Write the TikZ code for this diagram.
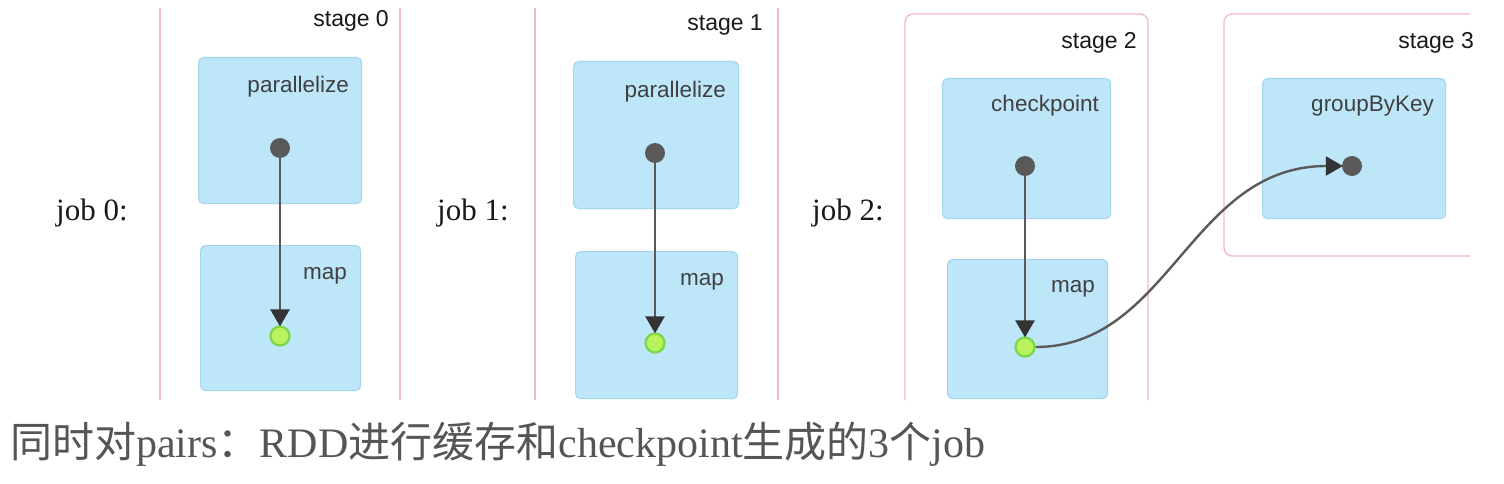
\documentclass[tikz,border=0pt]{standalone}
\usepackage{fontspec}
\setmainfont{Liberation Serif}
\setsansfont{Liberation Sans}
\newfontfamily\cjk{Noto Sans CJK SC}
\usetikzlibrary{arrows.meta}
\definecolor{boxfill}{HTML}{BDE6F9}
\definecolor{boxline}{HTML}{A3D6EF}
\definecolor{pinkline}{HTML}{F2B9C6}
\definecolor{dotdark}{HTML}{595959}
\definecolor{dotgreen}{HTML}{B8F25C}
\definecolor{dotgreenline}{HTML}{7CD64A}
\definecolor{edgecol}{HTML}{5A5A5A}
\definecolor{captioncol}{HTML}{555555}
\tikzset{
  bbox/.style={draw=boxline, fill=boxfill, line width=1.2pt, rounded corners=5pt, anchor=north west, inner sep=0pt},
  oplabel/.style={font=\sffamily\fontsize{22.5}{24}\selectfont, text=black!75, anchor=east, inner sep=0pt},
  stagelabel/.style={font=\sffamily\fontsize{23}{25}\selectfont, text=black!90, anchor=east, inner sep=0pt},
  joblabel/.style={font=\fontsize{31}{33}\selectfont, text=black!90, anchor=west, inner sep=0pt},
  darkdot/.style={circle, fill=dotdark, minimum size=20pt, inner sep=0pt},
  greendot/.style={circle, fill=dotgreen, draw=dotgreenline, line width=2.2pt, minimum size=19pt, inner sep=0pt},
  pinkrule/.style={draw=pinkline, line width=1.3pt},
  flow/.style={draw=edgecol, line width=2.4pt, -{Triangle[length=17pt,width=19pt,color=black!80]}, shorten >=-1pt},
}
\begin{document}
\begin{tikzpicture}[x=1pt,y=-1pt]
\useasboundingbox[fill=white] (0,0) rectangle (1504,484);
% stage separators
\draw[pinkrule] (160,8) -- (160,400);
\draw[pinkrule] (400,8) -- (400,400);
\draw[pinkrule] (535,8) -- (535,400);
\draw[pinkrule] (778,8) -- (778,400);
\draw[pinkrule, rounded corners=8pt] (905,400) -- (905,14) -- (1148,14) -- (1148,400);
\begin{scope}
\clip (1200,0) rectangle (1470,400);
\draw[pinkrule, rounded corners=8pt] (1224,14) rectangle (1500,256);
\end{scope}
% stage labels
\node[stagelabel] (s0) at (389,21) {stage 0};
\node[stagelabel] (s1) at (763,25) {stage 1};
\node[stagelabel] (s2) at (1137,43) {stage 2};
\node[stagelabel] (s3) at (1474,43) {stage 3};
% job labels
\node[joblabel] (j0) at (56,213) {job 0:};
\node[joblabel] (j1) at (437,213) {job 1:};
\node[joblabel] (j2) at (812,213) {job 2:};
% job 0
\node[bbox, minimum width=163pt, minimum height=146pt] (p0) at (198,57) {};
\node[bbox, minimum width=160pt, minimum height=145pt] (m0) at (200,245) {};
\node[oplabel] at (349,87) {parallelize};
\node[oplabel] at (347,276) {map};
\node[darkdot] (d0) at (280,148) {};
\node[greendot] (g0) at (280,336) {};
\draw[flow] (d0) -- (g0);
% job 1
\node[bbox, minimum width=165pt, minimum height=147pt] (p1) at (573,61) {};
\node[bbox, minimum width=162pt, minimum height=147pt] (m1) at (575,251) {};
\node[oplabel] at (726,92) {parallelize};
\node[oplabel] at (724,282) {map};
\node[darkdot] (d1) at (655,153) {};
\node[greendot] (g1) at (655,343) {};
\draw[flow] (d1) -- (g1);
% job 2
\node[bbox, minimum width=168pt, minimum height=140pt] (c2) at (942,78) {};
\node[bbox, minimum width=160pt, minimum height=139pt] (m2) at (947,259) {};
\node[bbox, minimum width=183pt, minimum height=140pt] (gb) at (1262,78) {};
\node[oplabel] at (1099,106) {checkpoint};
\node[oplabel] at (1095,289) {map};
\node[oplabel] at (1434,106) {groupByKey};
\node[darkdot] (d2) at (1025,166) {};
\node[greendot] (g2) at (1025,347) {};
\node[darkdot] (d3) at (1352,166) {};
\draw[flow] (d2) -- (g2);
\draw[flow] (g2.east) .. controls (1170,347) and (1190,166) .. (d3.west);
% caption
\node[anchor=west, inner sep=0pt, text=captioncol, font=\fontsize{42}{46}\selectfont] (cap) at (10,444)
  {{\cjk 同时对}pairs{\cjk ：}RDD{\cjk 进行缓存和}checkpoint{\cjk 生成的}3{\cjk 个}job};
\end{tikzpicture}
\end{document}
